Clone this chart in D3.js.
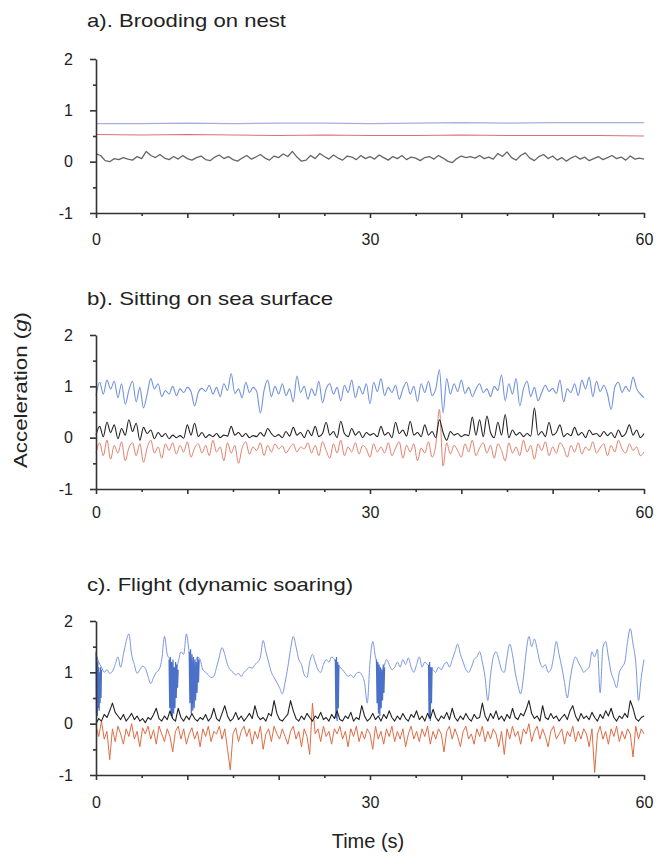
<!DOCTYPE html>
<html>
<head>
<meta charset="utf-8">
<script src="https://cdn.jsdelivr.net/npm/d3@7"></script>
<style>
  body { margin: 0; background: #fff; }
  text { font-family: "Liberation Sans", Arial, sans-serif; fill: #222; }
</style>
</head>
<body>
<div id="container"></div>
<script>
// ---- data (acceleration in g, samples evenly spaced over 0..60 s) ----
const xTicks = [0, 10, 20, 30, 40, 50, 60];
const xMinor = [5, 15, 25, 35, 45, 55];
const xLabels = [0, 30, 60];
const yTicks = [-1, 0, 1, 2];
const yMinor = [-0.5, 0.5, 1.5];

// a) brooding
const broodBlue = [0.74,0.74,0.75,0.74,0.75,0.75,0.74,0.75,0.76,0.75,0.76,0.76,0.76];
const broodRed = [0.53,0.52,0.53,0.52,0.51,0.52,0.51,0.51,0.52,0.51,0.51,0.51,0.50];
const broodBlack = [0.15,0.12,0.02,0.0,0.06,0.04,0.08,0.05,0.03,0.10,0.06,0.20,0.12,0.08,0.14,0.07,0.04,0.10,0.05,0.12,
  0.06,0.03,0.08,0.11,0.04,0.02,0.09,0.13,0.06,0.10,0.04,0.01,0.07,0.12,0.05,0.09,0.14,0.07,0.03,0.11,
  0.08,0.15,0.10,0.20,0.09,0.01,0.03,0.12,0.06,0.16,0.10,0.05,0.13,0.07,0.03,0.11,0.09,0.04,0.12,0.06,
  0.10,0.05,0.13,0.08,0.03,0.10,0.06,0.12,0.04,0.09,0.07,0.02,0.08,0.10,0.05,0.12,0.07,0.01,-0.02,0.06,
  0.11,0.08,0.10,0.07,0.12,0.06,0.09,0.05,0.16,0.10,0.19,0.08,0.03,0.12,0.17,0.07,0.02,0.10,0.14,0.06,
  0.11,0.03,0.08,0.01,0.07,0.11,0.05,0.09,0.02,0.06,0.10,0.04,0.08,0.12,0.06,0.09,0.03,0.11,0.05,0.07,0.05];

// b) sitting on sea surface
const seaBlue = [0.82,1.08,0.85,1.12,0.95,1.10,0.78,1.05,0.65,0.92,
  1.10,0.70,0.98,0.58,0.85,1.15,0.95,1.05,0.80,0.92,
  0.85,1.00,0.82,0.95,0.88,0.98,0.90,0.62,0.88,0.96,
  0.90,1.02,0.85,0.98,0.80,1.05,0.92,1.25,0.86,0.95,
  0.78,1.08,0.88,0.98,0.90,0.48,0.92,1.12,0.80,1.00,
  0.85,1.05,0.82,0.95,0.70,1.20,0.88,1.00,0.75,0.95,
  0.82,1.10,0.68,0.95,1.05,0.85,0.98,0.72,1.02,0.88,
  1.12,0.78,1.00,0.85,1.05,0.66,1.08,0.90,1.15,0.82,
  0.98,0.88,1.02,0.75,0.95,1.08,0.85,1.00,0.70,1.05,
  0.88,1.10,0.82,0.95,1.32,0.48,1.15,0.85,1.05,0.90,
  1.12,0.86,0.98,0.80,0.95,1.05,0.88,0.95,0.80,1.00,
  0.92,1.22,0.72,1.05,0.85,1.15,0.62,0.95,1.10,0.80,
  0.98,0.72,0.88,1.02,0.90,0.96,0.86,1.12,0.70,0.95,
  0.88,1.05,0.82,1.12,0.95,1.18,0.80,1.10,0.90,1.02,
  0.85,0.55,0.98,1.08,0.88,1.00,0.90,1.18,0.95,0.85,0.78];
const seaBlack = [0.05,0.22,0.02,0.30,0.10,0.25,-0.02,0.18,0.05,0.35,
  0.12,0.28,-0.05,0.20,0.08,0.15,-0.02,0.10,0.02,0.08,
  -0.02,0.05,0.0,0.04,-0.01,0.25,0.05,0.28,0.02,0.10,
  0.0,0.06,0.02,0.08,0.0,0.05,0.03,0.22,0.05,0.10,
  0.02,0.08,0.0,0.04,0.02,0.10,0.03,0.18,0.08,0.02,
  0.06,0.0,0.12,0.03,0.20,0.05,0.10,0.0,0.15,0.04,
  0.22,0.02,0.08,0.30,0.05,0.12,0.0,0.32,0.08,0.02,
  0.18,0.05,0.12,0.0,0.10,0.05,0.08,0.02,0.22,0.05,
  0.10,0.0,0.30,0.08,0.15,0.03,0.32,0.05,0.10,0.02,
  0.25,0.05,0.12,0.0,0.35,0.10,-0.05,0.12,0.05,0.08,
  0.02,0.06,0.04,0.40,0.05,0.35,0.02,0.42,0.10,0.0,
  0.30,0.05,0.45,0.0,0.15,0.05,0.10,0.02,0.08,0.03,
  0.58,0.05,0.12,0.02,0.30,0.05,0.10,0.25,0.02,0.08,
  0.04,0.20,0.05,0.10,0.0,0.15,0.06,0.08,0.02,0.12,
  0.04,0.10,0.0,0.15,0.02,0.08,0.25,0.05,0.15,0.0,0.08];
const seaRed = [-0.30,-0.10,-0.35,-0.05,-0.42,-0.15,-0.30,-0.08,-0.45,-0.20,
  -0.10,-0.35,-0.12,-0.48,-0.20,-0.05,-0.30,-0.18,-0.40,-0.12,
  -0.25,-0.10,-0.32,-0.15,-0.28,-0.08,-0.38,-0.20,-0.12,-0.30,
  -0.15,-0.35,-0.05,-0.28,-0.18,-0.45,-0.10,-0.30,-0.15,-0.50,
  -0.20,-0.08,-0.32,-0.18,-0.25,-0.10,-0.35,-0.15,-0.28,-0.12,
  -0.22,-0.16,-0.30,-0.20,-0.12,-0.28,-0.18,-0.22,-0.10,-0.30,
  -0.15,-0.35,-0.08,-0.25,-0.40,-0.12,-0.30,-0.05,-0.35,-0.18,
  -0.28,-0.10,-0.32,-0.15,-0.22,-0.38,-0.12,-0.28,-0.18,-0.30,
  -0.10,-0.35,-0.20,-0.08,-0.40,-0.15,-0.28,-0.12,-0.45,-0.20,
  -0.30,-0.08,-0.38,-0.15,0.55,-0.55,-0.10,-0.32,-0.15,-0.25,
  -0.38,-0.12,-0.28,-0.05,-0.35,-0.20,-0.10,-0.30,-0.15,-0.40,
  -0.12,-0.25,-0.45,-0.10,-0.30,-0.18,-0.35,-0.05,-0.28,-0.15,
  -0.42,-0.12,-0.25,-0.08,-0.35,-0.18,-0.30,-0.10,-0.20,-0.38,
  -0.15,-0.28,-0.10,-0.32,-0.18,-0.25,-0.08,-0.30,-0.20,-0.12,
  -0.35,-0.15,-0.28,-0.05,-0.22,-0.30,-0.12,-0.25,-0.18,-0.35,-0.28];

// c) flight (dynamic soaring)
const flightBlue = [1.35,1.20,1.10,1.00,1.05,0.98,1.02,1.15,1.30,1.10,
  1.35,1.60,1.75,1.35,1.15,0.98,1.05,1.12,1.08,0.92,
  0.78,0.90,1.00,1.05,1.25,1.70,1.35,1.25,1.10,1.05,
  1.20,1.40,1.35,1.75,1.40,1.20,1.15,1.30,1.25,1.05,
  1.00,0.95,0.90,0.92,1.10,1.30,1.48,1.35,1.15,1.05,
  1.00,0.95,0.98,0.92,1.00,1.05,1.10,1.08,1.15,1.20,
  1.30,1.62,1.40,1.20,1.00,0.90,0.80,0.70,0.58,0.80,
  1.10,1.45,1.70,1.50,1.25,1.15,0.95,0.90,1.20,1.35,
  1.20,1.05,1.00,1.15,1.25,1.20,1.30,1.25,1.15,1.10,
  1.05,0.98,0.92,0.95,0.90,0.98,1.00,0.95,0.80,0.40,
  1.20,1.60,1.30,1.15,1.05,1.10,1.25,1.15,1.05,1.10,
  1.20,1.10,1.25,1.15,1.28,1.10,1.00,1.15,1.30,1.10,
  1.20,1.15,1.10,1.05,1.00,1.10,1.05,1.15,1.20,1.10,
  1.25,1.40,1.55,1.35,1.20,1.05,1.00,1.10,1.25,1.30,
  1.40,1.20,0.90,0.45,0.95,1.30,1.40,1.25,1.05,1.00,
  1.30,1.55,1.35,1.00,0.75,0.58,0.90,1.40,1.70,1.50,
  1.65,1.45,1.20,1.10,1.15,1.00,1.05,1.30,1.60,1.35,
  1.10,0.80,0.50,0.85,1.15,1.30,1.20,1.10,1.00,1.05,
  1.10,1.40,1.30,1.45,0.60,1.48,1.60,1.30,1.00,0.85,
  0.70,1.00,1.10,1.20,1.60,1.85,1.55,1.20,0.45,0.90,1.25];
// short bursts of rapid oscillation in the heave axis (start s, end s, values)
const burstStart = [0.0, 8.0, 10.2, 26.2, 30.7, 36.4];
const burstEnd = [0.6, 9.0, 11.3, 26.6, 31.6, 36.8];
const burstValues = [
  [1.40,0.20,1.30,0.15,1.20,0.30,1.10,0.25,1.00,0.40,1.10,0.50,1.05],
  [1.25,0.30,1.30,0.15,1.20,0.10,1.25,0.20,1.10,0.30,1.20,0.50,1.15,0.70,1.05],
  [1.40,0.40,1.45,0.20,1.35,0.25,1.30,0.30,1.25,0.45,1.20,0.60,1.30,0.80,1.25],
  [1.25,0.10,1.30,0.05,1.20,0.30,1.15],
  [1.25,0.40,1.20,0.20,1.15,0.15,1.10,0.30,1.05,0.45,1.15,0.60,1.10],
  [1.15,0.10,1.20,0.05,1.10,0.40,1.10]
];
const flightBlack = [0.00,0.10,0.05,0.18,0.12,0.25,0.40,0.22,0.15,0.08,
  0.18,0.05,0.12,0.20,0.08,0.15,0.05,0.10,0.02,0.12,
  0.08,0.18,0.30,0.10,0.05,0.15,0.08,0.25,0.10,0.05,
  0.30,0.12,0.05,0.15,0.08,0.20,0.10,0.05,0.12,0.08,
  0.18,0.05,0.12,0.30,0.10,0.05,0.20,0.35,0.15,0.05,
  0.10,0.22,0.08,0.15,0.05,0.12,0.20,0.10,0.35,0.15,
  0.08,0.12,0.05,0.20,0.15,0.45,0.20,0.08,0.05,0.12,
  0.18,0.45,0.25,0.10,0.05,0.15,0.08,0.20,0.12,0.05,
  0.15,0.10,0.22,0.08,0.12,0.05,0.18,0.10,0.25,0.08,
  0.05,0.15,0.10,0.22,0.05,0.12,0.08,0.35,0.15,0.05,
  0.10,0.20,0.08,0.15,0.05,0.18,0.10,0.25,0.12,0.05,
  0.15,0.08,0.20,0.10,0.05,0.18,0.12,0.25,0.08,0.15,
  0.05,0.20,0.10,0.28,0.12,0.05,0.15,0.10,0.22,0.08,
  0.30,0.12,0.05,0.15,0.08,0.20,0.10,0.05,0.18,0.10,
  0.12,0.40,0.15,0.05,0.20,0.10,0.25,0.08,0.15,0.05,
  0.18,0.10,0.30,0.12,0.08,0.20,0.15,0.28,0.45,0.20,
  0.10,0.15,0.05,0.35,0.12,0.08,0.20,0.10,0.15,0.05,
  0.12,0.18,0.08,0.25,0.35,0.15,0.05,0.20,0.10,0.15,
  0.08,0.22,0.12,0.05,0.18,0.10,0.25,0.15,0.30,0.12,
  0.05,0.15,0.10,0.20,0.12,0.45,0.30,0.10,0.05,0.12,0.15];
const flightRed = [-0.05,-0.25,0.05,-0.30,-0.15,-0.70,-0.10,-0.35,-0.05,-0.20,
  -0.40,-0.10,-0.25,0.00,-0.30,-0.15,-0.45,-0.08,-0.20,-0.05,
  -0.30,-0.12,-0.40,-0.05,-0.20,-0.35,-0.10,-0.25,-0.55,-0.15,
  -0.05,-0.30,-0.10,-0.40,-0.20,-0.08,-0.30,-0.15,-0.45,-0.10,
  -0.25,-0.05,-0.35,-0.15,-0.20,-0.05,-0.30,-0.10,-0.50,-0.90,
  -0.20,-0.08,-0.35,-0.15,-0.05,-0.25,-0.10,-0.40,-0.15,-0.30,
  -0.05,-0.50,-0.20,-0.10,-0.35,-0.05,-0.20,-0.30,-0.10,-0.25,
  -0.40,-0.15,-0.05,-0.30,-0.15,-0.45,-0.10,-0.25,-0.60,0.40,
  -0.20,-0.10,-0.35,-0.05,-0.25,-0.15,-0.40,-0.10,-0.20,-0.05,
  -0.30,-0.15,-0.45,-0.10,-0.25,-0.05,-0.35,-0.15,-0.30,-0.10,
  -0.20,-0.50,-0.05,-0.30,-0.15,-0.40,-0.10,-0.25,-0.05,-0.35,
  -0.15,-0.30,-0.10,-0.45,-0.20,-0.05,-0.30,-0.15,-0.35,-0.10,
  -0.25,-0.05,-0.40,-0.15,-0.30,-0.10,-0.20,-0.55,-0.15,-0.05,
  -0.30,-0.10,-0.25,-0.45,-0.15,-0.05,-0.30,-0.20,-0.40,-0.10,
  -0.25,-0.05,-0.35,-0.15,-0.30,-0.10,-0.20,-0.45,-0.15,-0.60,
  -0.10,-0.30,-0.05,-0.25,-0.15,-0.40,-0.10,-0.20,0.00,-0.35,
  -0.15,-0.05,-0.30,-0.10,-0.25,-0.45,-0.15,-0.05,-0.30,-0.20,
  -0.10,-0.40,-0.15,-0.25,-0.05,-0.35,-0.15,-0.30,-0.10,-0.20,
  -0.45,-0.10,-0.95,-0.20,-0.05,-0.30,-0.15,-0.40,-0.10,-0.25,
  -0.05,-0.35,-0.15,-0.30,-0.10,-0.20,-0.65,-0.05,-0.30,-0.10,-0.20];

// ---- layout ----
const w = 659, h = 858;
const left = 96, right = 644, plotH = 154;

const panels = [
  { title: "a). Brooding on nest", top: 59, titleY: 27, titleW: 199, lab: 16,
    series: [
      { v: broodBlue, color: "#a7addf", width: 1.2, curve: d3.curveLinear },
      { v: broodRed, color: "#d9707c", width: 1.1, curve: d3.curveLinear },
      { v: broodBlack, color: "#666", width: 1.3, curve: d3.curveLinear }
    ] },
  { title: "b). Sitting on sea surface", top: 335, titleY: 305, titleW: 246, lab: 13,
    series: [
      { v: seaBlue, color: "#7192dc", width: 1.1, curve: d3.curveMonotoneX },
      { v: seaRed, color: "#e2806c", width: 1.0, curve: d3.curveMonotoneX },
      { v: seaBlack, color: "#222", width: 1.1, curve: d3.curveMonotoneX }
    ] },
  { title: "c). Flight (dynamic soaring)", top: 621, titleY: 591, titleW: 266, lab: 17,
    bursts: true,
    series: [
      { v: flightBlue, color: "#7b97de", width: 1.0, curve: d3.curveMonotoneX },
      { v: flightRed, color: "#df6c44", width: 1.0, curve: d3.curveLinear },
      { v: flightBlack, color: "#222", width: 1.1, curve: d3.curveLinear }
    ] }
];

const svg = d3.select("#container").append("svg")
  .attr("width", w).attr("height", h);

const x = d3.scaleLinear().domain([0, 60]).range([left, right]);

panels.forEach(p => {
  const y = d3.scaleLinear().domain([-1, 2]).range([p.top + plotH, p.top]);
  const g = svg.append("g");

  p.series.forEach(s => {
    const n = s.v.length;
    const line = d3.line()
      .curve(s.curve)
      .x((d, i) => x(i * 60 / (n - 1)))
      .y(d => y(d));
    g.append("path")
      .attr("d", line(s.v))
      .attr("fill", "none")
      .attr("stroke", s.color)
      .attr("stroke-width", s.width)
      .attr("stroke-linejoin", "round");
    if (p.bursts && s.v === flightBlue) {
      burstValues.forEach((bv, k) => {
        const m = bv.length;
        const bl = d3.line()
          .x((d, i) => x(burstStart[k] + i * (burstEnd[k] - burstStart[k]) / (m - 1)))
          .y(d => y(d));
        g.append("path")
          .attr("d", bl(bv))
          .attr("fill", "none")
          .attr("stroke", "#4a70c8")
          .attr("stroke-width", 1.2);
      });
    }
  });

  // y axis
  g.append("g").attr("transform", `translate(${left},0)`)
    .call(d3.axisLeft(y).tickValues(yTicks).tickSize(6).tickPadding(17)
      .tickFormat(d => String(d)).tickSizeOuter(0));
  g.append("g").attr("transform", `translate(${left},0)`)
    .call(d3.axisLeft(y).tickValues(yMinor).tickSize(3).tickFormat("").tickSizeOuter(0))
    .select(".domain").remove();

  // x axis
  g.append("g").attr("transform", `translate(0,${p.top + plotH})`)
    .call(d3.axisBottom(x).tickValues(xTicks).tickSize(5).tickPadding(p.lab)
      .tickFormat(d => xLabels.includes(d) ? String(d) : "").tickSizeOuter(0));
  g.append("g").attr("transform", `translate(0,${p.top + plotH})`)
    .call(d3.axisBottom(x).tickValues(xMinor).tickSize(3).tickFormat("").tickSizeOuter(0))
    .select(".domain").remove();

  g.selectAll(".domain, .tick line").attr("stroke", "#333").attr("stroke-width", 1.6);
  g.selectAll(".tick text").attr("font-size", 16).attr("fill", "#222")
    .attr("font-family", "Liberation Sans, Arial, sans-serif");

  g.append("text")
    .attr("x", 87).attr("y", p.titleY)
    .attr("font-size", 19)
    .attr("textLength", p.titleW)
    .attr("lengthAdjust", "spacingAndGlyphs")
    .text(p.title);
});

// axis titles
const yl = svg.append("text")
  .attr("transform", "translate(27,390) rotate(-90)")
  .attr("text-anchor", "middle")
  .attr("font-size", 19)
  .attr("textLength", 156)
  .attr("lengthAdjust", "spacingAndGlyphs");
yl.append("tspan").text("Acceleration (");
yl.append("tspan").attr("font-style", "italic").text("g");
yl.append("tspan").text(")");

svg.append("text")
  .attr("x", 368).attr("y", 848)
  .attr("text-anchor", "middle")
  .attr("font-size", 20)
  .text("Time (s)");
</script>
</body>
</html>
